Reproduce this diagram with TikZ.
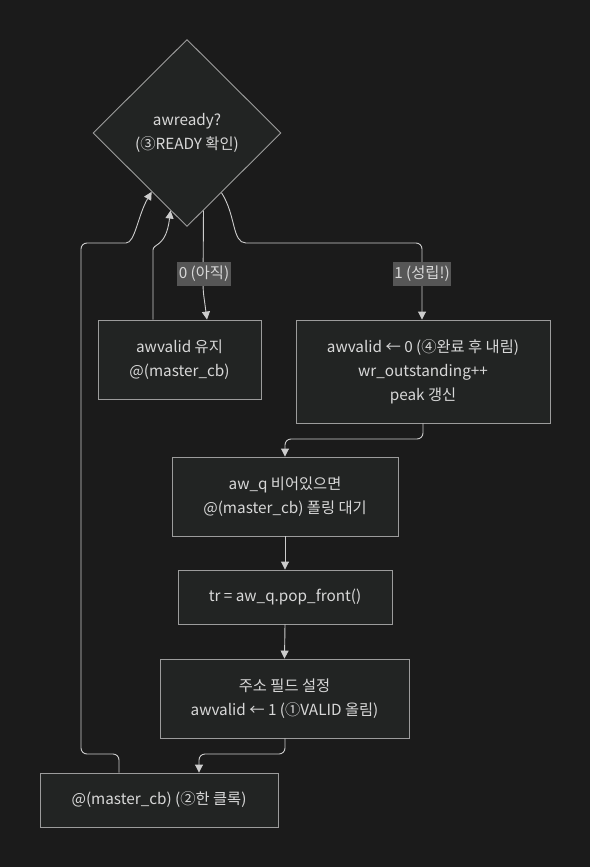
\documentclass[tikz,border=0pt]{standalone}
\usepackage{fontspec}
\setmainfont{Noto Sans CJK KR}
\usetikzlibrary{shapes.geometric,arrows.meta}
\definecolor{bg}{HTML}{1B1B1B}
\definecolor{nodefill}{HTML}{222423}
\definecolor{nodeline}{HTML}{9C9C9C}
\definecolor{edgeline}{HTML}{CCCCCC}
\definecolor{txt}{HTML}{D8D8D8}
\definecolor{lblbg}{HTML}{565656}
\tikzset{
  box/.style={draw=nodeline, line width=0.9pt, fill=nodefill, text=txt, align=center, inner sep=0pt, font=\fontsize{15.3}{24}\selectfont},
  dec/.style={diamond, draw=nodeline, line width=0.9pt, fill=nodefill, text=txt, align=center, inner sep=0pt, font=\fontsize{15.3}{24}\selectfont},
  edge/.style={draw=edgeline, line width=0.9pt, rounded corners=6pt, -{Triangle[length=8pt,width=8pt]}},
  lbl/.style={fill=lblbg, text=txt, inner xsep=1.5pt, minimum height=24pt, font=\fontsize{15.3}{16}\selectfont}
}
\begin{document}
\begin{tikzpicture}[x=1pt,y=-1pt]
\fill[bg] (0,0) rectangle (590,867);
\useasboundingbox (0,0) rectangle (590,867);
% diamond
\node[dec, minimum width=188pt, minimum height=187pt] (d) at (187,133) {awready?\\(③READY 확인)};
% boxes
\node[box, minimum width=163pt, minimum height=79pt] (keep) at (179.5,359.5) {awvalid 유지\\@(master\_cb)};
\node[box, minimum width=254pt, minimum height=103pt] (done) at (423,371.5) {awvalid ← 0 (④완료 후 내림)\\wr\_outstanding++\\peak 갱신};
\node[box, minimum width=226pt, minimum height=79pt] (empty) at (285,496.5) {aw\_q 비어있으면\\@(master\_cb) 폴링 대기};
\node[box, minimum width=214pt, minimum height=54pt] (pop) at (285,597) {tr = aw\_q.pop\_front()};
\node[box, minimum width=249pt, minimum height=79pt] (addr) at (284.5,698.5) {주소 필드 설정\\awvalid ← 1 (①VALID 올림)};
\node[box, minimum width=238pt, minimum height=54pt] (clk) at (159,800) {@(master\_cb) (②한 클록)};
% coordinates
\coordinate (d0) at (d.-78);
\coordinate (d1) at (d.-60);
\coordinate (din) at (d.-102);
\coordinate (dout) at (d.-121);
% edges
\draw[edge] (d0) -- (203,290) -- (keep.north -| 207,0);
\draw[edge] (d1) .. controls (236,215) and (232,243) .. (252,243) -- (422,243) -- (done.north -| 422,0);
\draw[edge] (keep.north -| 153,0) -- (153,256) .. controls (153,243) and (166,248) .. (din);
\draw[edge] (done.south) -- (423,439) -- (285,439) -- (empty.north);
\draw[edge] (empty.south) -- (pop.north);
\draw[edge] (pop.south) -- (addr.north);
\draw[edge] (addr.south -| 285,0) -- (285,754) -- (199,754) -- (clk.north -| 199,0);
\draw[edge] (clk.north -| 119,0) -- (119,754) -- (81,754) -- (81,243) -- (120,243) .. controls (135,243) and (138,215) .. (dout);
% labels
\node[lbl] (l0) at (204,274) {0 (아직)};
\node[lbl] (l1) at (422,274) {1 (성립!)};
\end{tikzpicture}
\end{document}
